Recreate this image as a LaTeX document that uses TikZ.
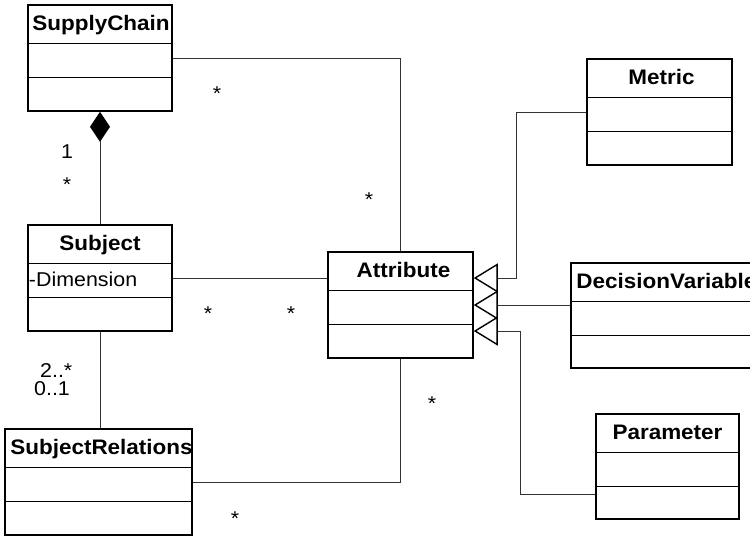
\documentclass[tikz,border=0pt]{standalone}
\usepackage{fontspec}
\setmainfont{Liberation Sans}[FakeStretch=1.07]
\usetikzlibrary{arrows.meta,calc}

\tikzset{
  classbox/.style={draw=black, line width=1.5pt, inner sep=0pt, fill=white},
  divider/.style={draw=black, line width=1.2pt},
  ctitle/.style={font=\fontsize{21}{25}\selectfont\bfseries, inner sep=0pt},
  attrtext/.style={font=\fontsize{20}{24}\selectfont, inner sep=0pt},
  mult/.style={font=\fontsize{20}{24}\selectfont, inner sep=0pt},
  conn/.style={draw=black!80, line width=1pt},
  gen/.style={conn, -{Triangle[open, length=24pt, width=29pt, line width=1.4pt, color=black]}},
  comp/.style={conn, {Diamond[length=30pt, width=20pt, fill=black, color=black]}-},
}

% the two compartment lines of a class box
\newcommand{\umlrows}[1]{%
  \draw[divider] ([yshift=-39pt]#1.north west) -- ([yshift=-39pt]#1.north east);
  \draw[divider] ([yshift=-73pt]#1.north west) -- ([yshift=-73pt]#1.north east);}

\begin{document}
\begin{tikzpicture}[x=1pt, y=-1pt]
  \useasboundingbox (0,0) rectangle (750,536);
  \clip (0,0) rectangle (750,536);

  % classes
  \node[classbox, minimum width=144, minimum height=106] (sc)   at (100,58)    {};
  \node[classbox, minimum width=144, minimum height=106] (subj) at (100,278)   {};
  \node[classbox, minimum width=187, minimum height=106] (sr)   at (98.5,482)  {};
  \node[classbox, minimum width=145, minimum height=106] (attr) at (400.5,305) {};
  \node[classbox, minimum width=145, minimum height=106] (met)  at (659.5,112) {};
  \node[classbox, minimum width=194, minimum height=105] (dv)   at (668,315.5) {};
  \node[classbox, minimum width=143, minimum height=105] (par)  at (667.5,466.5) {};

  \umlrows{sc} \umlrows{subj} \umlrows{sr} \umlrows{attr}
  \umlrows{met} \umlrows{dv} \umlrows{par}

  % class names
  \node[ctitle, anchor=base] (scT)   at ($(sc.north)+(1,26.5)$)   {SupplyChain};
  \node[ctitle, anchor=base] (subjT) at ($(subj.north)+(0,26.5)$) {Subject};
  \node[ctitle, anchor=base] (srT)   at ($(sr.north)+(3,26.5)$)   {SubjectRelations};
  \node[ctitle, anchor=base] (attrT) at ($(attr.north)+(3,26.5)$) {Attribute};
  \node[ctitle, anchor=base] (metT)  at ($(met.north)+(2,26.5)$)  {Metric};
  \node[ctitle, anchor=base west] (dvT) at ($(dv.north west)+(6,26.5)$) {DecisionVariable};
  \node[ctitle, anchor=base] (parT)  at ($(par.north)+(0,26.5)$)  {Parameter};

  \node[attrtext, anchor=base west] (dimA) at ($(subj.north west)+(1.5,62)$) {-Dimension};

  % associations
  \draw[conn] (sc.east) -| (attr.north);
  \draw[conn] (subj.east) -- (subj.east -| attr.west);
  \draw[conn] (subj.south) -- (subj.south |- sr.north);
  \draw[conn] (sr.east) -| (attr.south);
  \draw[comp] (sc.south) -- (subj.north);

  % generalizations
  \draw[gen] (met.west) -| ($(attr.east)+(43,-27)$) -- ($(attr.east)+(0,-27)$);
  \draw[gen] (dv.west |- attr.east) -- (attr.east);
  \draw[gen] ($(par.west)+(0,27.5)$) -| ($(attr.east)+(47,26)$) -- ($(attr.east)+(0,26)$);

  % multiplicities
  \node[mult, anchor=base] (m1) at (217,100.5) {*};
  \node[mult, anchor=base] (m2) at (369,206.5) {*};
  \node[mult, anchor=base] (m3) at (67,158)    {1};
  \node[mult, anchor=base] (m4) at (67,191.5)  {*};
  \node[mult, anchor=base] (m5) at (208,320.5) {*};
  \node[mult, anchor=base] (m6) at (291,320.5) {*};
  \node[mult, anchor=base] (m7) at (432,410.5) {*};
  \node[mult, anchor=base] (m8) at (235,525.5) {*};
  \node[mult, anchor=base west] (m9)  at (40,377) {2..*};
  \node[mult, anchor=base west] (m10) at (34,395) {0..1};
\end{tikzpicture}
\end{document}
